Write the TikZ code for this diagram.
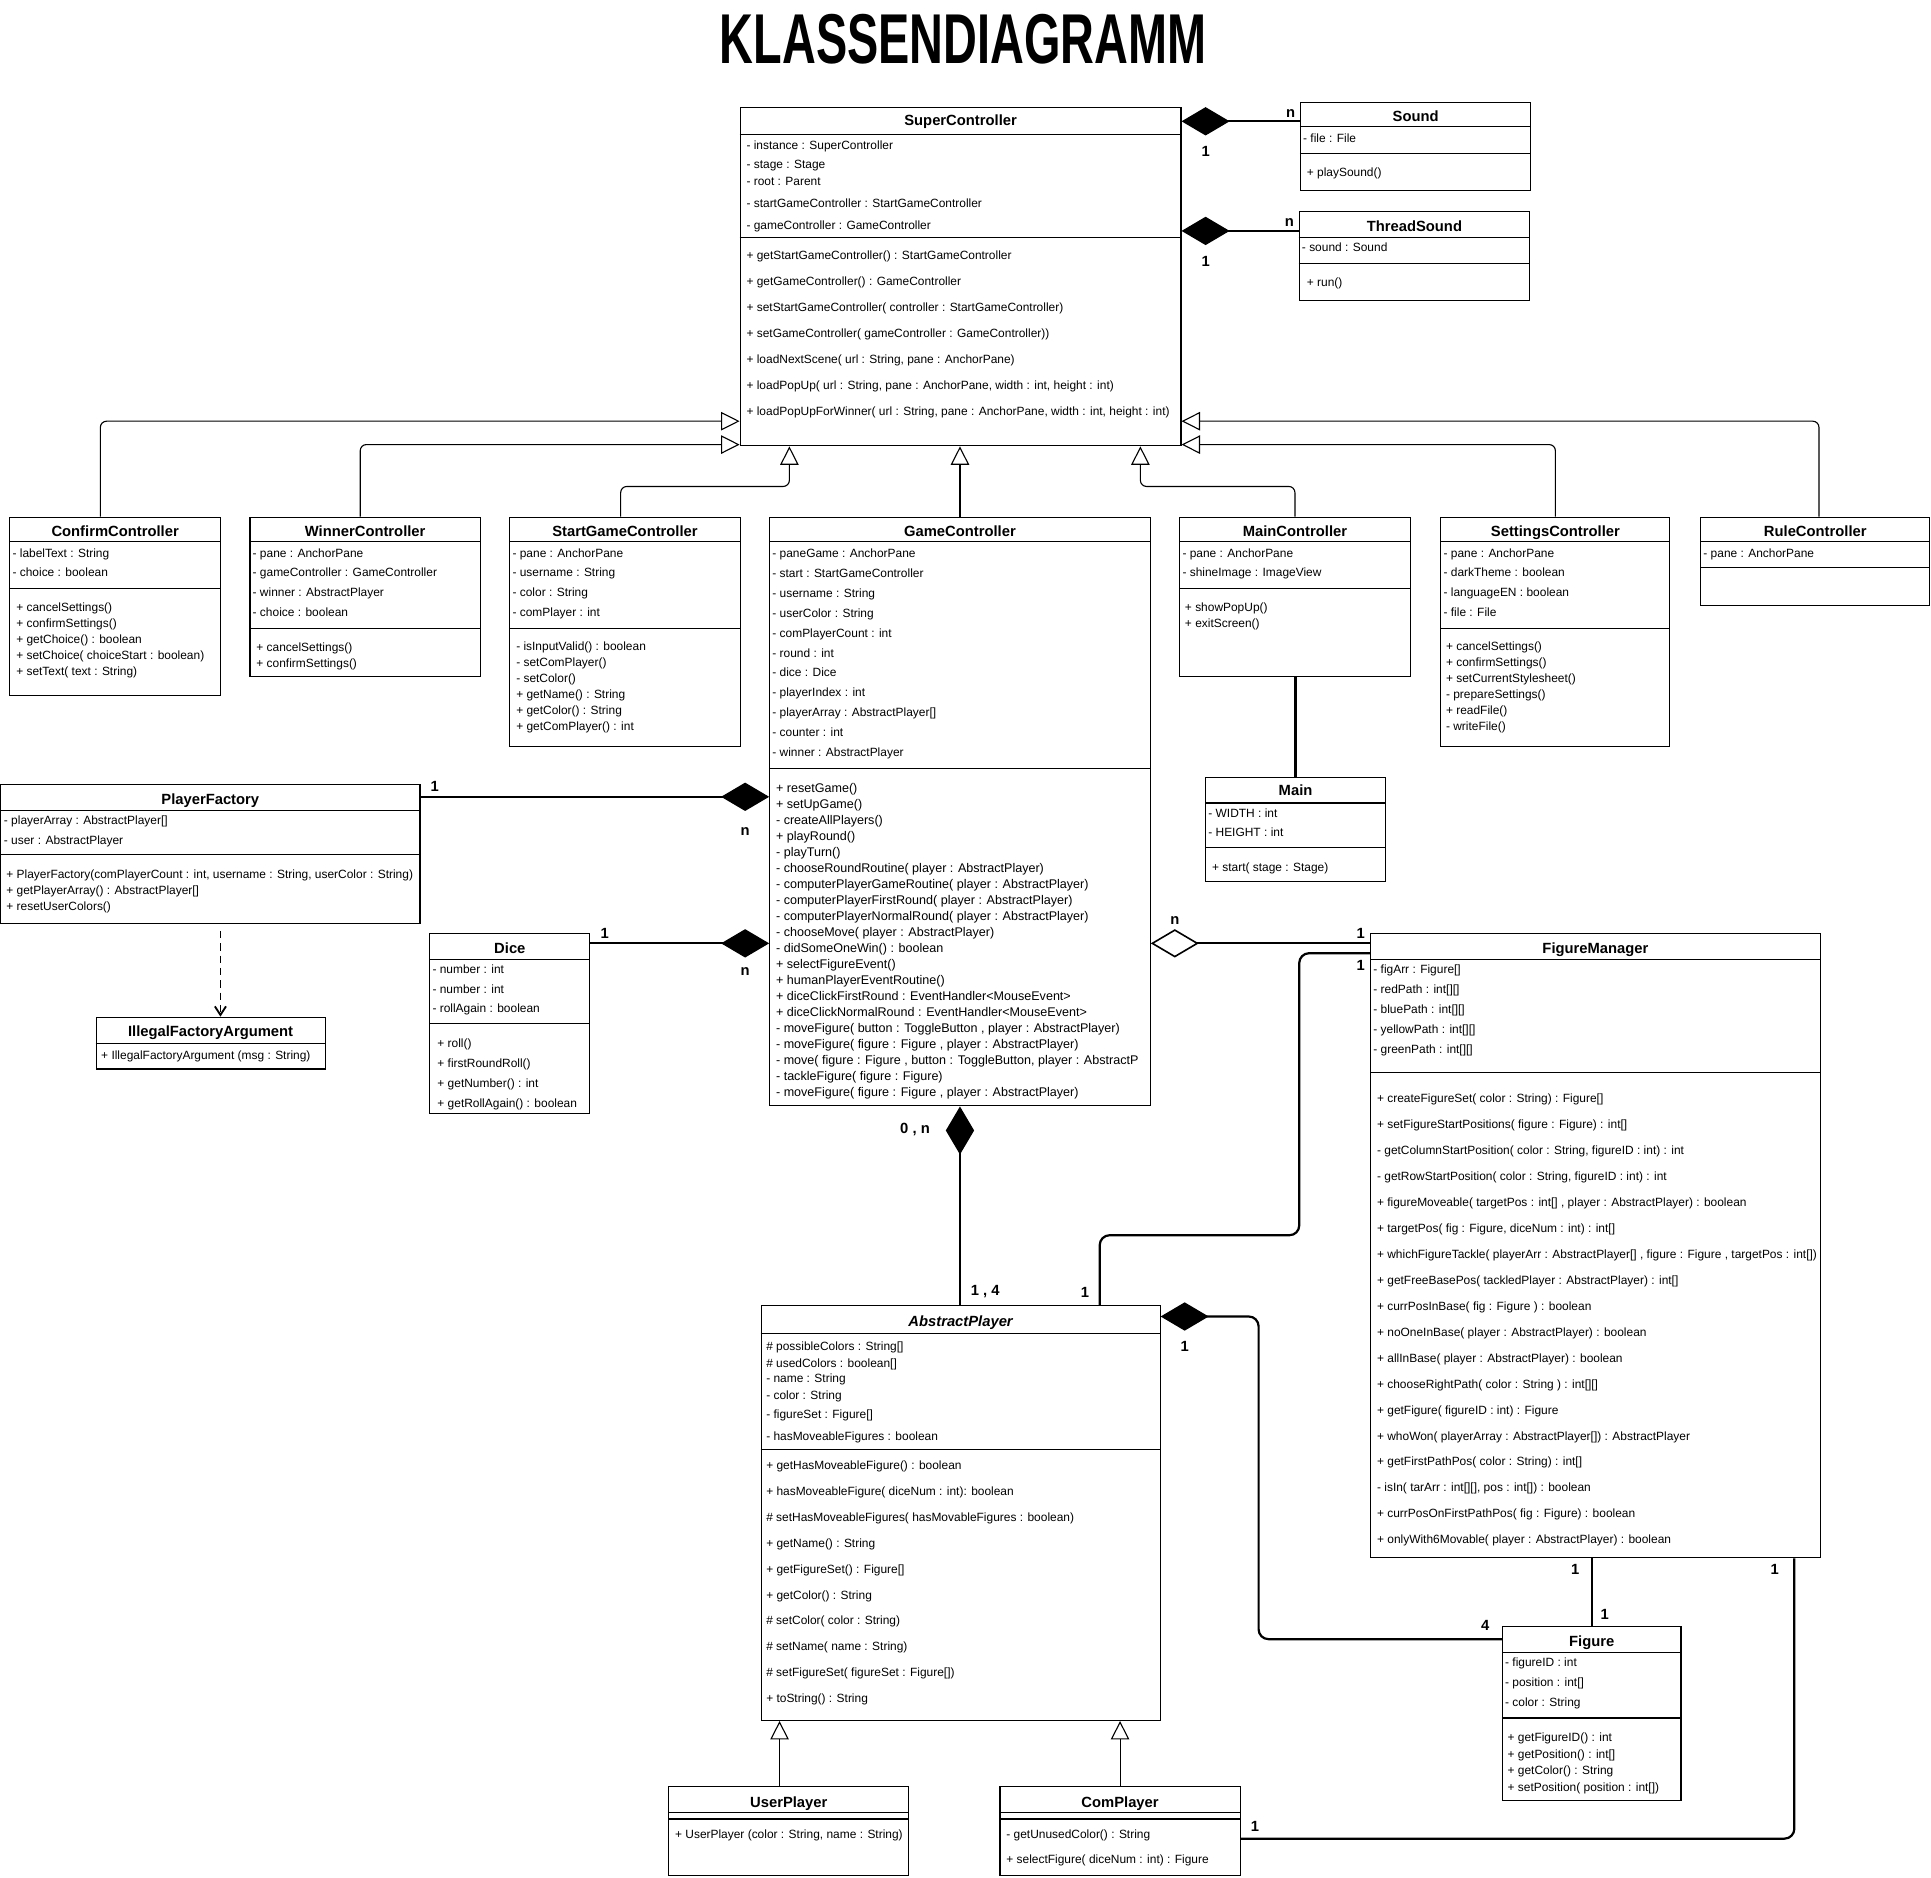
\documentclass[tikz,border=0pt]{standalone}
\usepackage{fontspec}
\usepackage{graphicx}
\setmainfont{Liberation Sans}
\usetikzlibrary{arrows.meta}
\tikzset{
  box/.style={draw, line width=0.9pt, inner sep=0pt},
  ttl/.style={font=\bfseries\fontsize{12}{14}\selectfont, inner sep=0pt, text height=8.6pt, text depth=0pt, anchor=center},
  sec/.style={anchor=north west, align=left, inner sep=0pt, font=\fontsize{9.7}{#1}\selectfont},
  secL/.style={anchor=north west, align=left, inner sep=0pt, font=\fontsize{10.2}{#1}\selectfont},
  sepline/.style={line width=0.9pt},
  gen/.style={line width=0.9pt, rounded corners=5pt, -{Triangle[open, length=15pt, width=15pt, fill=white]}},
  assoc/.style={line width=1.8pt},
  comp/.style={assoc, -{Diamond[length=39pt, width=23pt, line width=1pt]}},
  compstart/.style={assoc, {Diamond[length=39pt, width=23pt, line width=1pt]}-},
  aggstart/.style={assoc, {Diamond[open, fill=white, length=39pt, width=23pt, line width=1.3pt]}-},
  dep/.style={line width=1.5pt, dash pattern=on 6pt off 4pt, -{Straight Barb[length=7pt, width=9pt]}},
  lbl/.style={font=\bfseries\fontsize{12}{14}\selectfont, inner sep=0pt, text height=8.6pt, text depth=0pt},
}
\newcommand\umlbox[8]{%
  \node[box, minimum width={#4-#2}, minimum height={#5-#3}] (#1) at ({(#2+#4)/2},{(#3+#5)/2}) {};
  \node[ttl] (#1-name) at ({(#2+#4)/2},#7) {#6};
  \draw[sepline] (#1.west |- 0,#8) -- (#1.east |- 0,#8);}
\newcommand\hsep[2]{\draw[sepline] (#1.west |- 0,#2) -- (#1.east |- 0,#2);}
\newcommand\sect[5]{\node[sec=#4] (#1) at (#2,{#3-4.7}) {\rule{0pt}{8pt}#5};}
\newcommand\sectL[5]{\node[secL=#4] (#1) at (#2,{#3-4.9}) {\rule{0pt}{8pt}#5};}

\begin{document}
\begin{tikzpicture}[x=1pt,y=-1pt]
\useasboundingbox (0,0) rectangle (1568,1524.2);

% title
\node[inner sep=0pt] (title) at (782,32) {\resizebox{395pt}{40pt}{\bfseries KLASSENDIAGRAMM}};

% ---------- SuperController
\umlbox{sc}{601}{87}{959}{362}{SuperController}{98}{109}
\hsep{sc}{193}
\sect{sc-a}{606}{118}{15}{- instance : SuperController\\- stage : Stage\\[-1pt]- root : Parent\\[3pt]- startGameController : StartGameController\\[3pt]- gameController : GameController}
\sect{sc-m}{606}{207}{21.15}{+ getStartGameController() : StartGameController\\+ getGameController() : GameController\\+ setStartGameController( controller : StartGameController)\\+ setGameController( gameController : GameController))\\+ loadNextScene( url : String, pane : AnchorPane)\\+ loadPopUp( url : String, pane : AnchorPane, width : int, height : int)\\+ loadPopUpForWinner( url : String, pane : AnchorPane, width : int, height : int)}

% ---------- Sound
\umlbox{snd}{1056}{83}{1243}{155}{Sound}{94}{103}
\hsep{snd}{125}
\sect{snd-a}{1058}{112}{15}{- file : File}
\sect{snd-m}{1061}{140}{15}{+ playSound()}

% ---------- ThreadSound
\umlbox{tsnd}{1055}{172}{1242}{244}{ThreadSound}{184}{193}
\hsep{tsnd}{214}
\sect{tsnd-a}{1057}{201}{15}{- sound : Sound}
\sect{tsnd-m}{1061}{229}{15}{+ run()}

% ---------- ConfirmController
\umlbox{cc}{8}{420}{179}{565}{ConfirmController}{431}{440}
\hsep{cc}{478}
\sect{cc-a}{10}{449}{16}{- labelText : String\\- choice : boolean}
\sect{cc-m}{13}{493}{13}{+ cancelSettings()\\+ confirmSettings()\\+ getChoice() : boolean\\+ setChoice( choiceStart : boolean)\\+ setText( text : String)}

% ---------- WinnerController
\umlbox{wc}{203}{420}{390}{549}{WinnerController}{431}{440}
\hsep{wc}{510}
\sect{wc-a}{205}{449}{16}{- pane : AnchorPane\\- gameController : GameController\\- winner : AbstractPlayer\\- choice : boolean}
\sect{wc-m}{208}{525.5}{13}{+ cancelSettings()\\+ confirmSettings()}

% ---------- StartGameController
\umlbox{sgc}{414}{420}{601}{606}{StartGameController}{431}{440}
\hsep{sgc}{510}
\sect{sgc-a}{416}{449}{16}{- pane : AnchorPane\\- username : String\\- color : String\\- comPlayer : int}
\sect{sgc-m}{419}{525}{13}{- isInputValid() : boolean\\- setComPlayer()\\- setColor()\\+ getName() : String\\+ getColor() : String\\+ getComPlayer() : int}

% ---------- GameController
\umlbox{gc}{625}{420}{934}{898}{GameController}{431}{440}
\hsep{gc}{624}
\sect{gc-a}{627}{449}{16.2}{- paneGame : AnchorPane\\- start : StartGameController\\- username : String\\- userColor : String\\- comPlayerCount : int\\- round : int\\- dice : Dice\\- playerIndex : int\\- playerArray : AbstractPlayer[]\\- counter : int\\- winner : AbstractPlayer}
\sectL{gc-m}{630}{640}{13}{+ resetGame()\\+ setUpGame()\\- createAllPlayers()\\+ playRound()\\- playTurn()\\- chooseRoundRoutine( player : AbstractPlayer)\\- computerPlayerGameRoutine( player : AbstractPlayer)\\- computerPlayerFirstRound( player : AbstractPlayer)\\- computerPlayerNormalRound( player : AbstractPlayer)\\- chooseMove( player : AbstractPlayer)\\- didSomeOneWin() : boolean\\+ selectFigureEvent()\\+ humanPlayerEventRoutine()\\+ diceClickFirstRound : EventHandler<MouseEvent>\\+ diceClickNormalRound : EventHandler<MouseEvent>\\- moveFigure( button : ToggleButton , player : AbstractPlayer)\\- moveFigure( figure : Figure , player : AbstractPlayer)\\- move( figure : Figure , button : ToggleButton, player : AbstractP\\- tackleFigure( figure : Figure)\\- moveFigure( figure : Figure , player : AbstractPlayer)}

% ---------- MainController
\umlbox{mc}{958}{420}{1145}{549}{MainController}{431}{440}
\hsep{mc}{478}
\sect{mc-a}{960}{449}{16}{- pane : AnchorPane\\- shineImage : ImageView}
\sect{mc-m}{962}{493}{13}{+ showPopUp()\\+ exitScreen()}

% ---------- SettingsController
\umlbox{setc}{1170}{420}{1356}{606}{SettingsController}{431}{440}
\hsep{setc}{510}
\sect{setc-a}{1172}{449}{16}{- pane : AnchorPane\\- darkTheme : boolean\\- languageEN : boolean\\- file : File}
\sect{setc-m}{1174}{525}{13}{+ cancelSettings()\\+ confirmSettings()\\+ setCurrentStylesheet()\\- prepareSettings()\\+ readFile()\\- writeFile()}

% ---------- RuleController
\umlbox{rc}{1381}{420}{1567}{492}{RuleController}{431}{440}
\hsep{rc}{461}
\sect{rc-a}{1383}{449}{16}{- pane : AnchorPane}

% ---------- Main
\umlbox{main}{979}{631}{1125}{716}{Main}{642}{652}
\hsep{main}{688}
\sect{main-a}{981}{660}{16}{- WIDTH : int\\- HEIGHT : int}
\sect{main-m}{984}{704}{13}{+ start( stage : Stage)}

% ---------- PlayerFactory
\umlbox{pf}{0.5}{637}{341}{750}{PlayerFactory}{649}{658}
\hsep{pf}{694}
\sect{pf-a}{3}{666}{16}{- playerArray : AbstractPlayer[]\\- user : AbstractPlayer}
\sect{pf-m}{5}{710}{13}{+ PlayerFactory(comPlayerCount : int, username : String, userColor : String)\\+ getPlayerArray() : AbstractPlayer[]\\+ resetUserColors()}

% ---------- IllegalFactoryArgument
\umlbox{ifa}{78}{826}{264}{868}{IllegalFactoryArgument}{837}{847}
\sect{ifa-m}{82}{857}{13}{+ IllegalFactoryArgument (msg : String)}

% ---------- Dice
\umlbox{dice}{349}{758}{479}{904}{Dice}{770}{779}
\hsep{dice}{831}
\sect{dice-a}{351}{787}{16}{- number : int\\- number : int\\- rollAgain : boolean}
\sect{dice-m}{355}{847}{16.3}{+ roll()\\+ firstRoundRoll()\\+ getNumber() : int\\+ getRollAgain() : boolean}

% ---------- FigureManager
\umlbox{fm}{1113}{758}{1478}{1265}{FigureManager}{770}{779}
\hsep{fm}{871}
\sect{fm-a}{1115}{787}{16.2}{- figArr : Figure[]\\- redPath : int[][]\\- bluePath : int[][]\\- yellowPath : int[][]\\- greenPath : int[][]}
\sect{fm-m}{1118}{892}{21.06}{+ createFigureSet( color : String) : Figure[]\\+ setFigureStartPositions( figure : Figure) : int[]\\- getColumnStartPosition( color : String, figureID : int) : int\\- getRowStartPosition( color : String, figureID : int) : int\\+ figureMoveable( targetPos : int[] , player : AbstractPlayer) : boolean\\+ targetPos( fig : Figure, diceNum : int) : int[]\\+ whichFigureTackle( playerArr : AbstractPlayer[] , figure : Figure , targetPos : int[])\\+ getFreeBasePos( tackledPlayer : AbstractPlayer) : int[]\\+ currPosInBase( fig : Figure ) : boolean\\+ noOneInBase( player : AbstractPlayer) : boolean\\+ allInBase( player : AbstractPlayer) : boolean\\+ chooseRightPath( color : String ) : int[][]\\+ getFigure( figureID : int) : Figure\\+ whoWon( playerArray : AbstractPlayer[]) : AbstractPlayer\\+ getFirstPathPos( color : String) : int[]\\- isIn( tarArr : int[][], pos : int[]) : boolean\\+ currPosOnFirstPathPos( fig : Figure) : boolean\\+ onlyWith6Movable( player : AbstractPlayer) : boolean}

% ---------- AbstractPlayer
\umlbox{ap}{618}{1060}{942}{1397}{\itshape AbstractPlayer}{1073}{1083}
\hsep{ap}{1177}
\sect{ap-a}{622}{1093}{14}{\# possibleColors : String[]\\\# usedColors : boolean[]\\[-2pt]- name : String\\- color : String\\[1pt]- figureSet : Figure[]\\[4pt]- hasMoveableFigures : boolean}
\sect{ap-m}{622}{1190}{21}{+ getHasMoveableFigure() : boolean\\+ hasMoveableFigure( diceNum : int): boolean\\\# setHasMoveableFigures( hasMovableFigures : boolean)\\+ getName() : String\\+ getFigureSet() : Figure[]\\+ getColor() : String\\\# setColor( color : String)\\\# setName( name : String)\\\# setFigureSet( figureSet : Figure[])\\+ toString() : String}

% ---------- Figure
\umlbox{fig}{1220}{1321}{1365}{1462}{Figure}{1333}{1342}
\hsep{fig}{1395}
\sect{fig-a}{1222}{1350}{16}{- figureID : int\\- position : int[]\\- color : String}
\sect{fig-m}{1224}{1411}{13.3}{+ getFigureID() : int\\+ getPosition() : int[]\\+ getColor() : String\\+ setPosition( position : int[])}

% ---------- UserPlayer / ComPlayer
\umlbox{up}{543}{1451}{738}{1523}{UserPlayer}{1463}{1472}
\hsep{up}{1477}
\sect{up-m}{548}{1489}{13}{+ UserPlayer (color : String, name : String)}
\umlbox{cp}{812}{1451}{1007}{1523}{ComPlayer}{1463}{1472}
\hsep{cp}{1477}
\sect{cp-m}{817}{1489}{21}{- getUnusedColor() : String\\+ selectFigure( diceNum : int) : Figure}

% ---------- generalizations
\draw[gen] (81.5,0 |- cc.north) |- (sc.west |- 0,342);
\draw[gen] (292.5,0 |- wc.north) |- (sc.west |- 0,361);
\draw[gen] (504,0 |- sgc.north) |- (641,395) -- (641,0 |- sc.south);
\draw[gen] (gc.north) -- (gc.north |- sc.south);
\draw[gen] (mc.north) |- (926,395) -- (926,0 |- sc.south);
\draw[gen] (setc.north) |- (sc.east |- 0,361);
\draw[gen] (1477,0 |- rc.north) |- (sc.east |- 0,342);
\draw[gen] (633,0 |- up.north) -- (633,0 |- ap.south);
\draw[gen] (cp.north) -- (cp.north |- ap.south);

% ---------- compositions / associations
\draw[comp] (snd.west |- 0,98.5) -- (sc.east |- 0,98.5);
\draw[comp] (tsnd.west |- 0,187.5) -- (sc.east |- 0,187.5);
\draw[comp] (pf.east |- 0,647) -- (gc.west |- 0,647);
\draw[comp] (dice.east |- 0,766) -- (gc.west |- 0,766);
\draw[aggstart] (gc.east |- 0,766) -- (fm.west |- 0,766);
\draw[comp] (gc.south |- ap.north) -- (gc.south);
\draw[assoc, rounded corners=8pt] (fm.west |- 0,774) -- (1055,774) -- (1055,1003) -- (893,1003) -- (893,0 |- ap.north);
\draw[compstart, rounded corners=8pt] (ap.east |- 0,1069) -- (1022,1069) -- (1022,1331) -- (fig.west |- 0,1331);
\draw[assoc] (fig.north |- fm.south) -- (fig.north);
\draw[assoc, rounded corners=8pt] (1457,0 |- fm.south) -- (1457,1493) -- (cp.east |- 0,1493);
\draw[assoc] (main.north |- mc.south) -- (main.north);
\coordinate (pfdep) at (179,756);
\draw[dep] (pfdep) -- (pfdep |- ifa.north);

% ---------- multiplicities
\node[lbl] (m1) at (1048,91) {n};
\node[lbl] (m2) at (979,123) {1};
\node[lbl] (m3) at (1047,180) {n};
\node[lbl] (m4) at (979,212) {1};
\node[lbl] (m5) at (353,638) {1};
\node[lbl] (m6) at (605,674) {n};
\node[lbl] (m7) at (491,758) {1};
\node[lbl] (m8) at (605,788) {n};
\node[lbl] (m9) at (954,746) {n};
\node[lbl] (m10) at (1105,758) {1};
\node[lbl] (m11) at (1105,784) {1};
\node[lbl] (m12) at (881,1049) {1};
\node[lbl] (m13) at (743,916) {0 , n};
\node[lbl] (m14) at (800,1048) {1 , 4};
\node[lbl] (m15) at (962,1093) {1};
\node[lbl] (m16) at (1206,1320) {4};
\node[lbl] (m17) at (1279,1274) {1};
\node[lbl] (m18) at (1303,1311) {1};
\node[lbl] (m19) at (1441,1274) {1};
\node[lbl] (m20) at (1019,1483) {1};
\end{tikzpicture}
\end{document}
